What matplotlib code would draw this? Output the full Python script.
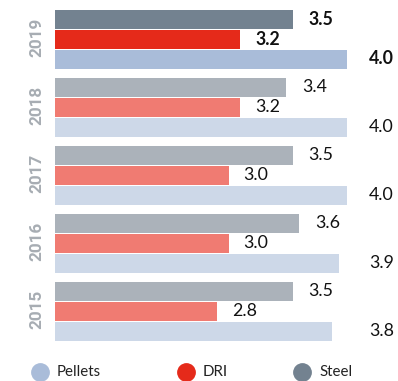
import matplotlib
matplotlib.use("Agg")
import matplotlib.pyplot as plt
from matplotlib.lines import Line2D
import matplotlib.transforms as mtransforms
import numpy as np

plt.rcParams["font.family"] = ["Lato", "DejaVu Sans"]

years = ["2019", "2018", "2017", "2016", "2015"]
pellets = [4.0, 4.0, 4.0, 3.9, 3.8]
dri = [3.2, 3.2, 3.0, 3.0, 2.8]
steel = [3.5, 3.4, 3.5, 3.6, 3.5]

# latest year in strong colours, earlier years washed out
colors_strong = {"Pellets": "#a9bcd9", "DRI": "#e52a1a", "Steel": "#738290"}
colors_light = {"Pellets": "#cdd8e8", "DRI": "#f07b72", "Steel": "#abb2ba"}

W, H, DPI = 398, 381, 100
fig = plt.figure(figsize=(W / DPI, H / DPI), dpi=DPI)
rect = [55 / W, 36 / H, 343 / W, 345 / H]

# each series has its own length scale, so stack three axes on top of each other
series = [
    ("Steel", steel, -0.30, 343 / 67.9, 11.5),
    ("DRI", dri, 0.0, 343 / 57.9, 10.8),
    ("Pellets", pellets, 0.30, 343 / 72.9, None),
]

y = np.arange(len(years))
bar_h = 0.28
val_size = 12.8

for k, (name, vals, off, xmax, pad) in enumerate(series):
    ax = fig.add_axes(rect, label=name)
    ax.set_xlim(0, xmax)
    ax.set_ylim(4.493, -0.581)
    ax.axis("off")
    ax.patch.set_alpha(0)
    cols = [colors_strong[name] if i == 0 else colors_light[name] for i in range(len(years))]
    ax.barh(y + off, vals, height=bar_h, color=cols)
    for i, v in enumerate(vals):
        weight = "bold" if i == 0 else "normal"
        if pad is None:
            tr = mtransforms.blended_transform_factory(fig.transFigure, ax.transData)
            ax.text(369 / W, y[i] + off - 0.02, f"{v:.1f}", transform=tr,
                    ha="left", va="center", fontsize=val_size, fontweight=weight,
                    color="#111111")
        else:
            ax.annotate(f"{v:.1f}", (v, y[i] + off), xytext=(pad, 0),
                        textcoords="offset points", ha="left", va="center",
                        fontsize=val_size, fontweight=weight, color="#111111")
    if k == 0:
        tr = mtransforms.blended_transform_factory(fig.transFigure, ax.transData)
        for i, yr in enumerate(years):
            ax.text(36.5 / W, y[i] - 0.03, yr, transform=tr, rotation=90,
                    ha="center", va="center", fontsize=12.3, fontweight="bold",
                    color="#a7adb3", family=["Roboto", "DejaVu Sans"])

# legend row
legend_items = [("Pellets", 40), ("DRI", 186), ("Steel", 302)]
for name, xc in legend_items:
    yc = 1 - 372 / H
    fig.add_artist(Line2D([xc / W], [yc], marker="o", markersize=12.5,
                          color=colors_strong[name], linestyle="none",
                          transform=fig.transFigure))
    fig.text((xc + 17) / W, yc, name, ha="left", va="center", fontsize=10.8,
             color="#222222")

fig.savefig("out.png", dpi=DPI)
